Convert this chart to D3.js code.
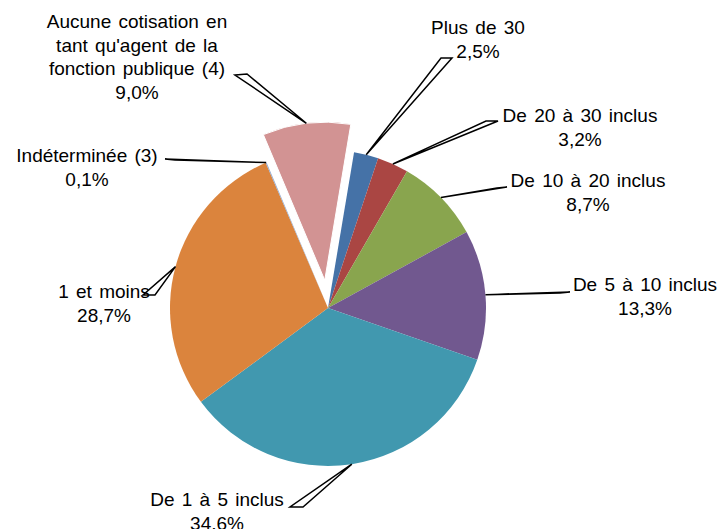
<!DOCTYPE html>
<html>
<head>
<meta charset="utf-8">
<script src="https://cdn.jsdelivr.net/npm/d3@7"></script>
<style>
  body { margin: 0; background: #fff; }
  text { font-family: "Liberation Sans", Arial, sans-serif; font-size: 19px; fill: #000; word-spacing: 2px; }
</style>
</head>
<body>
<div class="main"></div>
<script>
const w = 721;
const h = 529;

// slices, clockwise from the blue one
const categories = [
  'Plus de 30',
  'De 20 à 30 inclus',
  'De 10 à 20 inclus',
  'De 5 à 10 inclus',
  'De 1 à 5 inclus',
  '1 et moins',
  'Indéterminée (3)',
  "Aucune cotisation en|tant qu'agent de la|fonction publique (4)"
];
const values = [2.5, 3.2, 8.7, 13.3, 34.6, 28.7, 0.1, 9.0];
const valueLabels = ['2,5%', '3,2%', '8,7%', '13,3%', '34,6%', '28,7%', '0,1%', '9,0%'];
const colors = ['#4572A7', '#AA4643', '#89A54E', '#71588F', '#4198AF', '#DB843D', '#92A8CD', '#D29393'];
const exploded = [0, 0, 0, 0, 0, 0, 0, 28];

// label layout: text centre, first baseline, leader base segment
const labelLayout = [
  { x: 478, y: 34, base: [[441, 58], [452, 58]] },
  { x: 580, y: 122, base: [[486, 121], [498, 121]] },
  { x: 588, y: 187, base: [[497, 188], [507, 187]] },
  { x: 645, y: 291, base: [[560, 293], [570, 292]] },
  { x: 217, y: 506, base: [[290, 507], [303, 507]] },
  { x: 104, y: 298, base: [[143, 295], [155, 295]] },
  { x: 87, y: 162, base: [[165, 159], [175, 160]] },
  { x: 137, y: 28, base: [[235, 75], [247, 74]] }
];

const cx = 328;
const cy = 308;
const r = 158;
const lineH = 23.5;

const svg = d3.select('.main').append('svg').attr('width', w).attr('height', h);

const pie = d3.pie()
  .sort(null)
  .value(d => d)
  .startAngle(9.5 * Math.PI / 180)
  .endAngle(9.5 * Math.PI / 180 + 2 * Math.PI);

const arc = d3.arc().innerRadius(0).outerRadius(r);
const arcs = pie(values);

const offset = (d, i) => {
  const a = (d.startAngle + d.endAngle) / 2;
  return [exploded[i] * Math.sin(a), -exploded[i] * Math.cos(a)];
};

const g = svg.append('g').attr('transform', `translate(${cx},${cy})`);

g.selectAll('path.slice')
  .data(arcs)
  .enter()
  .append('path')
  .attr('class', 'slice')
  .attr('transform', (d, i) => `translate(${offset(d, i)})`)
  .attr('fill', (d, i) => colors[i])
  .attr('stroke', (d, i) => (exploded[i] ? '#fff' : 'none'))
  .attr('stroke-width', 1)
  .attr('d', arc);

// leader lines (thin wedges)
svg.selectAll('polygon.leader')
  .data(arcs)
  .enter()
  .append('polygon')
  .attr('class', 'leader')
  .attr('points', (d, i) => {
    const a = (d.startAngle + d.endAngle) / 2;
    const o = offset(d, i);
    const px = cx + o[0] + r * Math.sin(a);
    const py = cy + o[1] - r * Math.cos(a);
    const b = labelLayout[i].base;
    return [b[0], b[1], [px, py]].map(p => p.join(',')).join(' ');
  })
  .attr('fill', '#fff')
  .attr('stroke', '#000')
  .attr('stroke-width', 1.5)
  .attr('stroke-linejoin', 'miter');

const labels = svg.selectAll('text.label')
  .data(categories)
  .enter()
  .append('text')
  .attr('class', 'label')
  .attr('text-anchor', 'middle');

labels.each(function (c, i) {
  const lines = c.split('|').concat([valueLabels[i]]);
  const t = d3.select(this);
  lines.forEach((s, j) => {
    t.append('tspan')
      .attr('x', labelLayout[i].x)
      .attr('y', labelLayout[i].y + j * lineH)
      .text(s);
  });
});
</script>
</body>
</html>
